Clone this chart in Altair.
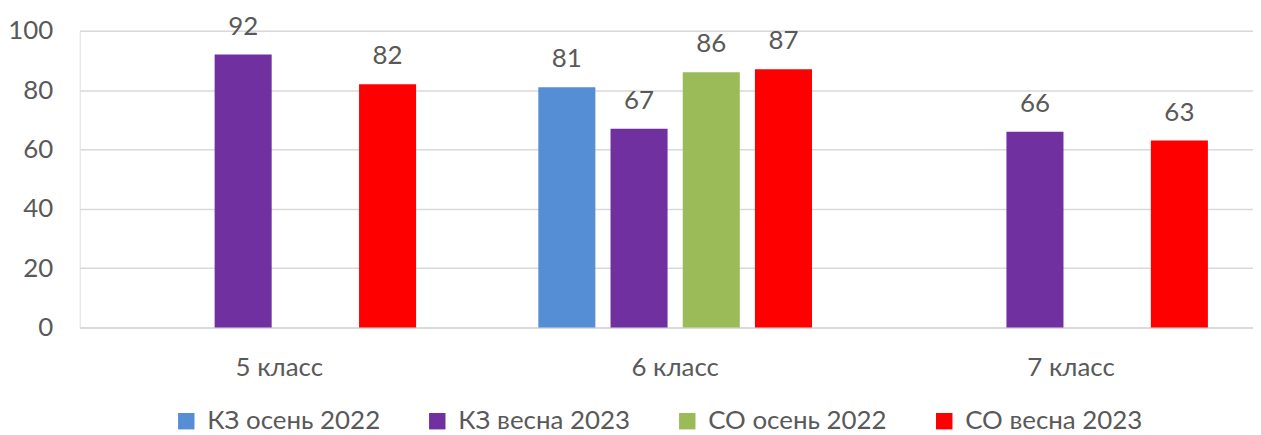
import altair as alt
import pandas as pd

categories = ["5 класс", "6 класс", "7 класс"]
series = ["КЗ осень 2022", "КЗ весна 2023", "СО осень 2022", "СО весна 2023"]
colors = ["#558ED5", "#7030A0", "#9BBB59", "#FF0000"]
# None = no bar in that group
values = {
    "КЗ осень 2022": [None, 81, None],
    "КЗ весна 2023": [92, 67, 66],
    "СО осень 2022": [None, 86, None],
    "СО весна 2023": [82, 87, 63],
}

rows = []
for s in series:
    for c, v in zip(categories, values[s]):
        if v is not None:
            rows.append({"Класс": c, "Серия": s, "Значение": v})
df = pd.DataFrame(rows)

FONT = "Lato"
GRAY = "#595959"

x = alt.X("Класс:N", sort=categories,
          scale=alt.Scale(domain=categories, paddingInner=0.2704, paddingOuter=0.117,
                          align=0.595),
          axis=alt.Axis(title=None, labelAngle=0, ticks=False, domainColor="#D9D9D9",
                        domainWidth=1.5, labelPadding=27, labelFontSize=26,
                        labelColor=GRAY, labelFont=FONT))
xo = alt.XOffset("Серия:N", sort=series,
                 scale=alt.Scale(domain=series, paddingInner=0.21, paddingOuter=0.105))
y = alt.Y("Значение:Q",
          scale=alt.Scale(domain=[0, 100], nice=False),
          axis=alt.Axis(title=None, values=[0, 20, 40, 60, 80, 100], domain=False, ticks=False,
                        gridColor="#D9D9D9", gridWidth=1.5, labelPadding=27,
                        labelFontSize=26, labelColor=GRAY, labelFont=FONT))

color = alt.Color("Серия:N", sort=series,
                  scale=alt.Scale(domain=series, range=colors),
                  legend=alt.Legend(title=None, orient="none", legendX=94, legendY=379,
                                    direction="horizontal", columns=4, symbolType="square",
                                    symbolSize=272, symbolStrokeWidth=0, labelFontSize=26,
                                    labelFont=FONT, labelColor=GRAY, labelOffset=8,
                                    labelLimit=400, columnPadding=44))

bars = alt.Chart(df).mark_bar().encode(x=x, xOffset=xo, y=y, color=color)
labels = alt.Chart(df).mark_text(baseline="bottom", dy=-15, fontSize=26, font=FONT,
                                 color=GRAY).encode(
    x=x, xOffset=xo, y=y, text=alt.Text("Значение:Q"))

chart = (bars + labels).properties(
    width=1178, height=298,
    autosize=alt.AutoSizeParams(type="none"),
    padding={"left": 72, "top": 22, "right": 0, "bottom": 107},
).configure_view(stroke=None).configure(background="white")

chart.save("out.html", embed_options={"renderer": "svg", "actions": False})
